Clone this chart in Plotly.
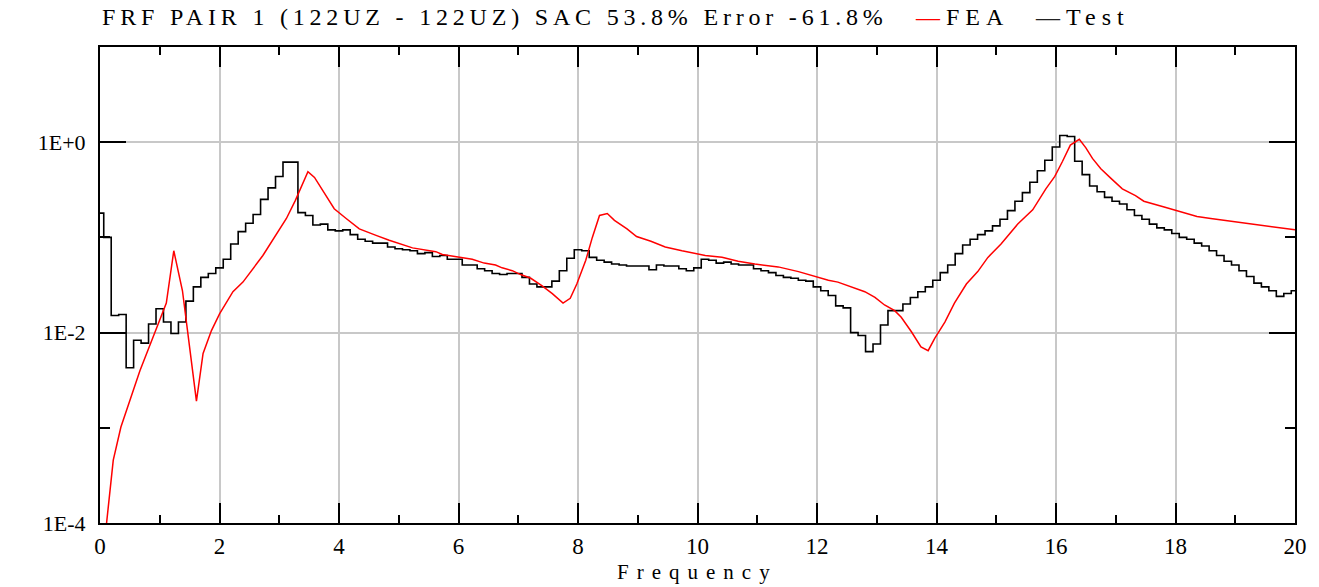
import numpy as np
import plotly.graph_objects as go

# ---------------- data ----------------
# Test FRF: uniform frequency bins of 0.125 Hz (0 .. 20 Hz)
test_freq = np.arange(161) * 0.125
test_amp = [
    0.18, 0.100, 0.0151, 0.0155, 0.00427, 0.00832, 0.00776, 0.0123, 0.0178, 0.0129,
    0.00977, 0.0129, 0.0214, 0.0302, 0.0380, 0.0417, 0.0479, 0.0589, 0.0851, 0.115,
    0.141, 0.174, 0.251, 0.331, 0.437, 0.617, 0.617, 0.182, 0.170, 0.135,
    0.138, 0.120, 0.117, 0.120, 0.107, 0.0955, 0.0912, 0.0871, 0.0871, 0.0794,
    0.0759, 0.0741, 0.0724, 0.0676, 0.0692, 0.0631, 0.0646, 0.0589, 0.0589, 0.0513,
    0.0513, 0.0468, 0.0447, 0.0417, 0.0407, 0.0417, 0.0417, 0.0380, 0.0324, 0.0302,
    0.0302, 0.0347, 0.0447, 0.0603, 0.0741, 0.0724, 0.0617, 0.0575, 0.0550, 0.0525,
    0.0513, 0.0501, 0.0501, 0.0501, 0.0457, 0.0513, 0.0501, 0.0501, 0.0468, 0.0447,
    0.0479, 0.0589, 0.0575, 0.0537, 0.0550, 0.0525, 0.0513, 0.0513, 0.0468, 0.0447,
    0.0427, 0.0398, 0.0380, 0.0372, 0.0355, 0.0347, 0.0302, 0.0275, 0.0245, 0.0191,
    0.0182, 0.0100, 0.00933, 0.00631, 0.00759, 0.0120, 0.0170, 0.0170, 0.0200, 0.0234,
    0.0269, 0.0302, 0.0355, 0.0427, 0.0513, 0.0676, 0.0832, 0.0955, 0.107, 0.117,
    0.132, 0.155, 0.191, 0.240, 0.295, 0.380, 0.501, 0.646, 0.891, 1.175,
    1.148, 0.631, 0.457, 0.347, 0.302, 0.263, 0.240, 0.224, 0.195, 0.170,
    0.155, 0.138, 0.126, 0.120, 0.110, 0.100, 0.0955, 0.0871, 0.0813, 0.0724,
    0.0646, 0.0562, 0.0513, 0.0447, 0.0389, 0.0331, 0.0302, 0.0275, 0.0240, 0.0257,
    0.0275,
]

# FEA FRF
fea_freq = [
    0.11, 0.222, 0.35, 0.556, 0.668, 0.98, 1.11, 1.235, 1.38, 1.614,
    1.725, 1.865, 2.003, 2.225, 2.392, 2.726, 2.99, 3.12, 3.27, 3.34,
    3.48, 3.59, 3.73, 3.92, 4.12, 4.34, 4.62, 4.84, 5.23, 5.62,
    5.73, 6.01, 6.23, 6.43, 6.62, 6.73, 6.90, 7.04, 7.21, 7.40,
    7.57, 7.75, 7.87, 7.98, 8.13, 8.24, 8.36, 8.49, 8.61, 8.82,
    8.98, 9.22, 9.46, 9.74, 9.88, 10.13, 10.41, 10.68, 10.96, 11.24,
    11.35, 11.69, 11.96, 12.19, 12.35, 12.58, 12.80, 12.97, 13.13, 13.30,
    13.41, 13.58, 13.74, 13.86, 13.97, 14.14, 14.30, 14.50, 14.69, 14.86,
    15.08, 15.36, 15.61, 15.83, 15.98, 16.11, 16.24, 16.39, 16.50, 16.61,
    16.75, 16.92, 17.11, 17.33, 17.47, 17.81, 18.03, 18.36, 18.59, 18.92,
    19.37, 19.75, 20.0,
]
fea_amp = [
    1.0e-4, 4.57e-4, 1.02e-3, 2.45e-3, 3.98e-3, 0.0126, 0.0204, 0.0724, 0.0275, 1.91e-3,
    6.03e-3, 0.0105, 0.0158, 0.0269, 0.0339, 0.0646, 0.117, 0.158, 0.245, 0.309,
    0.490, 0.427, 0.309, 0.200, 0.158, 0.123, 0.105, 0.0933, 0.0776, 0.0708,
    0.0661, 0.0617, 0.0589, 0.0537, 0.0513, 0.0479, 0.0447, 0.0407, 0.0372, 0.0309,
    0.0257, 0.0204, 0.0229, 0.0324, 0.0575, 0.100, 0.170, 0.178, 0.151, 0.123,
    0.102, 0.0912, 0.0794, 0.0724, 0.0692, 0.0646, 0.0617, 0.0562, 0.0525, 0.0501,
    0.0490, 0.0437, 0.0389, 0.0355, 0.0339, 0.0302, 0.0269, 0.0234, 0.0195, 0.0170,
    0.0145, 0.0102, 7.08e-3, 6.46e-3, 8.71e-3, 0.0129, 0.0204, 0.0324, 0.0437, 0.0617,
    0.0851, 0.138, 0.195, 0.324, 0.437, 0.631, 0.933, 1.072, 0.871, 0.676,
    0.525, 0.417, 0.324, 0.275, 0.240, 0.209, 0.191, 0.166, 0.158, 0.148,
    0.135, 0.126, 0.120,
]

x_ticks = list(range(0, 21, 2))
y_tickvals = [1e-4, 1e-2, 1.0]
y_ticktext = ["1E-4", "1E-2", "1E+0"]

title_text = "FRF PAIR 1 (122UZ - 122UZ) SAC 53.8% Error -61.8%"
xlabel_text = "Frequency"

# ---------------- figure ----------------
FONT = "Liberation Serif, Times New Roman, serif"

fig = go.Figure()
fig.add_trace(go.Scatter(x=test_freq, y=test_amp, mode="lines", name="Test",
                         line=dict(color="black", width=1.6, shape="hvh")))
fig.add_trace(go.Scatter(x=fea_freq, y=fea_amp, mode="lines", name="FEA",
                         line=dict(color="#ff0000", width=1.5)))

fig.update_layout(
    width=1319, height=587,
    margin=dict(l=100, r=21, t=47, b=64),
    paper_bgcolor="white", plot_bgcolor="white",
    showlegend=False,
    font=dict(family=FONT, size=22, color="black"),
)

fig.update_xaxes(
    range=[0, 20], tickvals=x_ticks, ticktext=[str(v) for v in x_ticks],
    ticks="inside", ticklen=20, tickwidth=2, tickcolor="black",
    showgrid=True, gridcolor="#c8c8c8", gridwidth=1.5,
    showline=True, linecolor="black", linewidth=2, mirror="allticks",
    zeroline=False, tickfont=dict(size=23, family=FONT),
    ticklabelstandoff=1,
    minor=dict(dtick=1, ticks="inside", ticklen=8, tickwidth=1.5,
               tickcolor="black", showgrid=False),
)
fig.update_yaxes(
    type="log", range=[-4, 1],
    tickvals=y_tickvals,
    ticktext=y_ticktext,
    ticks="inside", ticklen=26, tickwidth=2, tickcolor="black",
    showgrid=True, gridcolor="#c8c8c8", gridwidth=1.5,
    showline=True, linecolor="black", linewidth=2, mirror="allticks",
    zeroline=False, tickfont=dict(size=22, family=FONT),
    ticklabelstandoff=8,
    minor=dict(tickvals=[1e-3, 1e-1], ticks="inside", ticklen=10, tickwidth=1.5,
               tickcolor="black", showgrid=False),
)

fig.add_annotation(
    xref="paper", yref="paper", x=0.0, y=1.062, xanchor="left", yanchor="middle",
    text='<span style="letter-spacing:4.8px">%s</span>' % title_text,
    showarrow=False, font=dict(size=24, family=FONT, color="black"),
)
fig.add_annotation(
    xref="paper", yref="paper", x=(915 - 100) / 1198, y=1.062, xanchor="left", yanchor="middle",
    text='<span style="color:#ff0000;letter-spacing:6px">\u2014</span><span style="letter-spacing:6px">FEA</span>',
    showarrow=False, font=dict(size=24, family=FONT, color="black"),
)
fig.add_annotation(
    xref="paper", yref="paper", x=(1035 - 100) / 1198, y=1.062, xanchor="left", yanchor="middle",
    text='<span style="color:#222222;letter-spacing:6px">\u2014</span><span style="letter-spacing:6px">Test</span>',
    showarrow=False, font=dict(size=24, family=FONT, color="black"),
)
fig.add_annotation(
    xref="paper", yref="paper", x=0.5, y=-0.103, xanchor="center", yanchor="middle",
    text='<span style="letter-spacing:8px">%s</span>' % xlabel_text,
    showarrow=False, font=dict(size=21, family=FONT, color="black"),
    borderpad=0,
)

fig.write_html("out.html")
